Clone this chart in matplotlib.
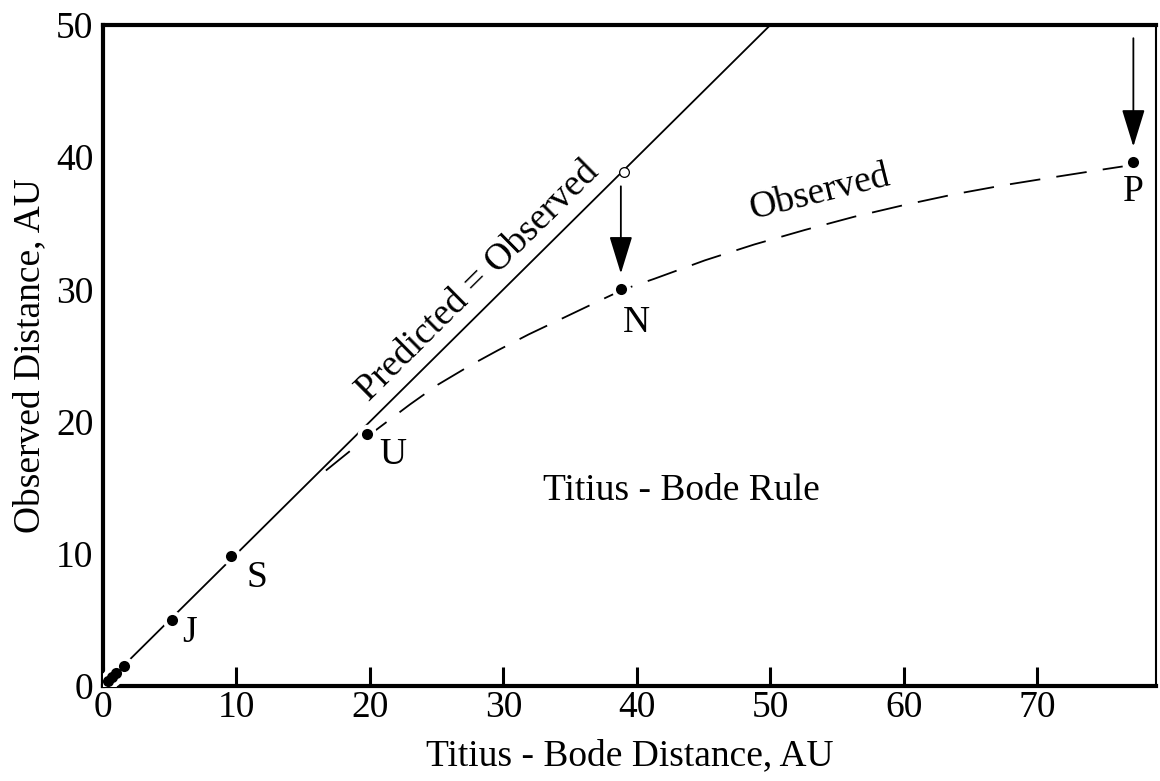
import numpy as np
import matplotlib
matplotlib.use("Agg")
import matplotlib.pyplot as plt

plt.rcParams['font.family'] = ['Liberation Serif', 'DejaVu Serif']

# Titius-Bode distance vs observed distance (AU)
tb_dist = [0.4, 0.7, 1.0, 1.6, 5.2, 9.6, 19.8, 38.8, 77.2]
obs_dist = [0.4, 0.7, 1.0, 1.5, 5.0, 9.8, 19.1, 30.0, 39.6]
planet_labels = ["J", "S", "U", "N", "P"]

# predicted position of Neptune (open circle)
nep_pred = (39.0, 38.9)

# observed trend curve (dashed)
curve_x = [16.7, 20.5, 23.0, 25.1, 27.6, 29.6, 31.9, 34.4, 37.1, 39.0, 41.3,
           45.1, 48.8, 52.6, 56.3, 60.1, 63.8, 67.6, 71.3, 75.1, 76.4]
curve_y = [16.3, 19.4, 21.3, 22.8, 24.3, 25.4, 26.6, 27.8, 29.1, 30.0, 30.8,
           32.2, 33.4, 34.5, 35.5, 36.4, 37.2, 37.9, 38.5, 39.1, 39.3]

fig = plt.figure(figsize=(11.6, 7.81), dpi=100)
ax = fig.add_axes([0.0888, 0.1216, 0.9078, 0.8464])

# predicted = observed line
line = np.array([0, 60])
ax.plot(line, line, color="k", lw=1.3, zorder=2)

# observed dashed curve
ax.plot(curve_x, curve_y, color="k", lw=1.3, linestyle=(0, (17, 9)), zorder=2)

# planets: white halo under black dots breaks the lines
ax.plot(tb_dist, obs_dist, "o", color="white", ms=14, mew=0, zorder=3)
ax.plot(tb_dist, obs_dist, "o", color="k", ms=8, mew=0, zorder=4)
ax.plot([nep_pred[0]], [nep_pred[1]], "o", color="white", ms=7, mec="k", mew=0.9, zorder=4)

# arrows
arrow_kw = dict(arrowstyle="-|>,head_length=1.3,head_width=0.4", color="k",
                lw=1.3, mutation_scale=18, shrinkA=0, shrinkB=0)
ax.annotate("", xy=(38.8, 31.2), xytext=(38.8, 37.8), arrowprops=arrow_kw)
ax.annotate("", xy=(77.2, 40.8), xytext=(77.2, 49.0), arrowprops=arrow_kw)

# planet labels
fs = 27
offsets = {"J": (6.5, 4.0), "S": (11.5, 8.2), "U": (21.7, 17.5),
           "N": (40.0, 27.5), "P": (77.2, 37.4)}
for lab in planet_labels:
    x, y = offsets[lab]
    ax.text(x, y, lab, fontsize=fs, ha="center", va="center")

ax.text(28.1, 30.6, "Predicted = Observed", fontsize=fs, rotation=44.7,
        ha="center", va="center", rotation_mode="anchor")
ax.text(53.7, 37.3, "Observed", fontsize=fs, rotation=14,
        ha="center", va="center", rotation_mode="anchor")
ax.text(43.3, 14.8, "Titius - Bode Rule", fontsize=fs, ha="center", va="center")

ax.set_xlim(0, 78.9)
ax.set_ylim(0, 50)
ax.set_xticks(np.arange(0, 80, 10))
ax.set_yticks(np.arange(0, 60, 10))
ax.tick_params(axis="x", direction="in", length=14, width=2.2, labelsize=fs, pad=3)
ax.tick_params(axis="y", length=0, labelsize=fs, pad=7)

for s in ["left", "top", "bottom"]:
    ax.spines[s].set_linewidth(3)
ax.spines["right"].set_linewidth(1.5)

ax.set_xlabel("Titius - Bode Distance, AU", fontsize=fs, labelpad=10)
ax.set_ylabel("Observed Distance, AU", fontsize=fs, labelpad=6)

fig.savefig("out.png", dpi=100)
